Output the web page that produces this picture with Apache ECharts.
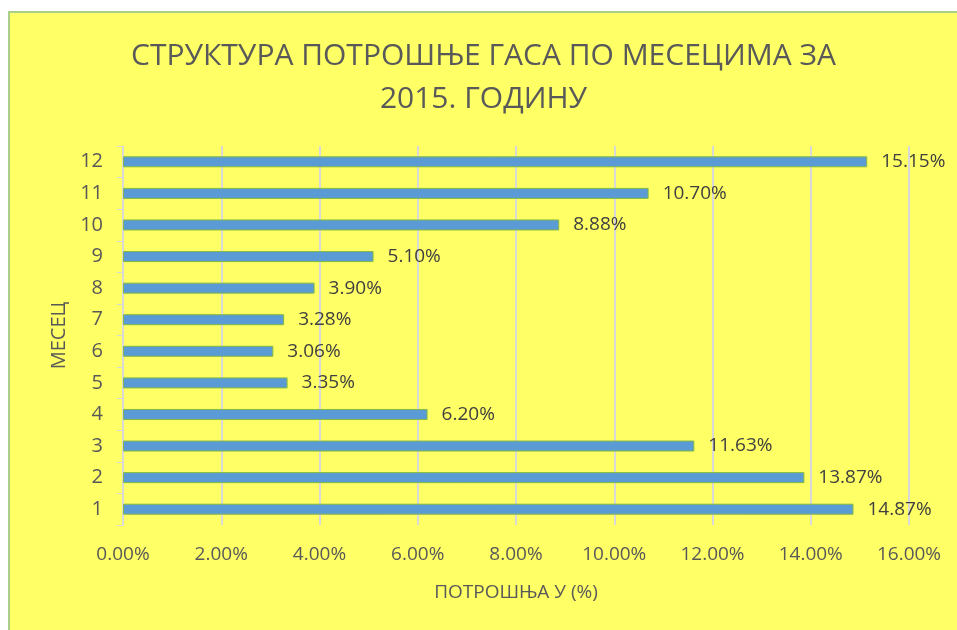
<!DOCTYPE html>
<html>
<head>
<meta charset="utf-8">
<script src="https://cdn.jsdelivr.net/npm/echarts@6/dist/echarts.min.js"></script>
<style>
  html, body { margin: 0; padding: 0; background: #ffffff; }
  #chart {
    position: absolute; left: 8px; top: 11px;
    width: 949px; height: 619px;
    border-left: 2px solid #a9cf8b; border-top: 2px solid #a9cf8b;
    box-sizing: border-box;
  }
</style>
</head>
<body>
<div id="chart"></div>
<script>
const titleText = 'СТРУКТУРА ПОТРОШЊЕ ГАСА ПО МЕСЕЦИМА ЗА\n2015. ГОДИНУ'
const months = ['1', '2', '3', '4', '5', '6', '7', '8', '9', '10', '11', '12']
const shares = [14.87, 13.87, 11.63, 6.20, 3.35, 3.06, 3.28, 3.90, 5.10, 8.88, 10.70, 15.15]
const xName = 'ПОТРОШЊА У (%)'
const yName = 'МЕСЕЦ'

const font = '"Open Sans", "Noto Sans", sans-serif'
const textColor = '#595959'

const chart = echarts.init(document.getElementById('chart'))
chart.setOption({
  backgroundColor: '#ffff66',
  animation: false,
  textStyle: { fontFamily: font },
  title: {
    text: titleText, left: 'center', top: 17,
    textStyle: { fontFamily: font, fontSize: 30, fontWeight: 'normal', color: textColor, lineHeight: 43 }
  },
  grid: { left: 113, right: 48, top: 133, bottom: 105, containLabel: false },
  xAxis: {
    type: 'value', min: 0, max: 16, interval: 2,
    name: xName, nameLocation: 'middle', nameGap: 58,
    nameTextStyle: { fontSize: 19, color: textColor },
    axisLine: { show: false }, axisTick: { show: false },
    axisLabel: { fontSize: 19, color: textColor, margin: 20, formatter: v => v.toFixed(2) + '%' },
    splitLine: { show: true, lineStyle: { color: '#d9d9d9', width: 2 } }
  },
  yAxis: {
    type: 'category', data: months,
    name: yName, nameLocation: 'middle', nameGap: 54, nameRotate: 90,
    nameTextStyle: { fontSize: 20, color: textColor },
    axisLine: { show: true, lineStyle: { color: '#d9d9d9', width: 1 } },
    axisTick: { show: true, length: 6, lineStyle: { color: '#d9d9d9' } },
    axisLabel: { fontSize: 20, color: textColor, margin: 20 }
  },
  series: [{
    type: 'bar', data: shares, barWidth: 11,
    itemStyle: { color: '#5b9bd5', borderColor: '#84b843', borderWidth: 1 },
    label: {
      show: true, position: 'right', distance: 14,
      fontSize: 19, color: '#404040', formatter: p => p.value.toFixed(2) + '%'
    }
  }]
})
</script>
</body>
</html>
